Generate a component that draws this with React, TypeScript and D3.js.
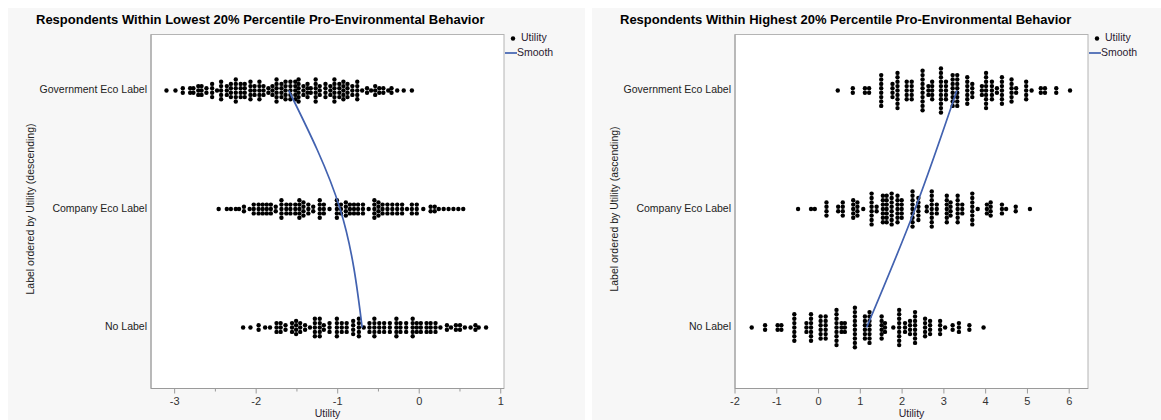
import React from 'react';
import * as d3 from 'd3';

const categories = ['Government Eco Label', 'Company Eco Label', 'No Label'];

// Left panel: lowest 20% (column positions in Utility, and dot count per column)
const lowGovVals = [-3.10, -2.99, -2.90, -2.81, -2.77, -2.71, -2.67, -2.61, -2.54, -2.48, -2.43, -2.36, -2.31, -2.25, -2.19, -2.14, -2.07, -2.02, -1.96, -1.91, -1.85, -1.80, -1.75, -1.69, -1.64, -1.58, -1.52, -1.48, -1.42, -1.37, -1.33, -1.27, -1.22, -1.15, -1.09, -1.04, -0.98, -0.93, -0.88, -0.82, -0.76, -0.70, -0.64, -0.59, -0.54, -0.49, -0.44, -0.38, -0.34, -0.27, -0.19, -0.09];
const lowGovCounts = [1, 1, 2, 2, 2, 3, 3, 2, 4, 1, 5, 3, 4, 6, 4, 4, 5, 3, 5, 3, 2, 3, 6, 4, 5, 5, 5, 6, 3, 4, 2, 6, 3, 4, 3, 6, 4, 5, 4, 3, 5, 1, 2, 1, 3, 2, 2, 1, 2, 1, 1, 1];

const lowCoVals = [-2.46, -2.36, -2.31, -2.25, -2.21, -2.15, -2.08, -2.03, -1.97, -1.92, -1.87, -1.82, -1.76, -1.69, -1.63, -1.58, -1.52, -1.47, -1.42, -1.36, -1.30, -1.22, -1.17, -1.10, -1.01, -0.96, -0.90, -0.85, -0.80, -0.75, -0.69, -0.62, -0.55, -0.50, -0.45, -0.39, -0.33, -0.27, -0.21, -0.15, -0.09, -0.03, 0.05, 0.14, 0.19, 0.24, 0.30, 0.36, 0.42, 0.48, 0.54];
const lowCoCounts = [1, 1, 1, 1, 1, 2, 1, 3, 3, 3, 3, 3, 2, 5, 3, 3, 3, 5, 4, 3, 2, 5, 3, 1, 5, 3, 4, 3, 3, 3, 3, 1, 5, 4, 3, 3, 3, 3, 3, 1, 3, 3, 1, 2, 2, 1, 1, 1, 1, 1, 1];

const lowNoVals = [-2.16, -2.07, -1.97, -1.89, -1.83, -1.75, -1.70, -1.64, -1.56, -1.51, -1.46, -1.40, -1.34, -1.28, -1.22, -1.17, -1.10, -1.01, -0.95, -0.89, -0.81, -0.74, -0.68, -0.61, -0.55, -0.49, -0.43, -0.36, -0.28, -0.23, -0.16, -0.08, -0.03, 0.02, 0.09, 0.14, 0.20, 0.26, 0.34, 0.39, 0.45, 0.50, 0.56, 0.63, 0.69, 0.73, 0.82];
const lowNoCounts = [1, 1, 2, 1, 1, 3, 3, 2, 3, 4, 3, 2, 1, 5, 5, 2, 3, 5, 3, 3, 4, 5, 1, 3, 5, 3, 3, 3, 5, 3, 3, 5, 3, 3, 3, 3, 3, 1, 2, 1, 2, 2, 1, 1, 2, 1, 1];

const lowSmooth = [-1.60, -0.97, -0.70];

// Right panel: highest 20%
const highGovVals = [0.46, 0.82, 1.11, 1.21, 1.50, 1.77, 1.89, 2.11, 2.23, 2.49, 2.63, 2.72, 2.93, 3.05, 3.21, 3.32, 3.56, 3.68, 3.91, 4.01, 4.15, 4.27, 4.39, 4.62, 4.73, 4.97, 5.10, 5.32, 5.42, 5.69, 6.02];
const highGovCounts = [1, 2, 2, 2, 8, 4, 9, 5, 5, 10, 3, 5, 11, 5, 8, 8, 7, 4, 3, 9, 5, 2, 7, 6, 2, 5, 1, 2, 2, 2, 1];

const highCoVals = [-0.49, -0.18, -0.09, 0.19, 0.47, 0.58, 0.83, 0.93, 1.07, 1.27, 1.39, 1.54, 1.63, 1.75, 1.89, 1.99, 2.25, 2.39, 2.59, 2.71, 2.83, 3.07, 3.16, 3.33, 3.44, 3.68, 3.81, 4.03, 4.12, 4.39, 4.49, 4.72, 5.06];
const highCoCounts = [1, 1, 1, 4, 2, 4, 5, 4, 1, 8, 2, 7, 7, 8, 7, 5, 9, 6, 2, 9, 3, 7, 4, 7, 3, 8, 1, 3, 4, 3, 1, 2, 1];

const highNoVals = [-1.60, -1.28, -0.98, -0.89, -0.58, -0.29, -0.18, 0.05, 0.17, 0.43, 0.55, 0.63, 0.87, 1.11, 1.22, 1.51, 1.59, 1.79, 1.93, 2.07, 2.19, 2.31, 2.55, 2.67, 2.91, 3.03, 3.21, 3.36, 3.61, 3.95];
const highNoCounts = [1, 2, 2, 2, 7, 3, 7, 6, 6, 9, 3, 3, 10, 6, 8, 6, 3, 1, 9, 3, 4, 8, 5, 4, 4, 1, 2, 3, 2, 1];

const highSmooth = [3.31, 2.31, 1.15];

const lowTicks = [-3, -2, -1, 0, 1];
const lowMinorTicks = [-2.5, -1.5, -0.5, 0.5];
const highTicks = [-2, -1, 0, 1, 2, 3, 4, 5, 6];
const highMinorTicks: number[] = [];

const FONT = "'Segoe UI', 'Liberation Sans', Arial, sans-serif";
const DOT_R = 2.2;
const DOT_STEP = 4.4;

type Swarm = { vals: number[]; counts: number[] };

interface PanelProps {
  offsetX: number;
  panelW: number;
  title: string;
  yLabel: string;
  domain: [number, number];
  ticks: number[];
  minorTicks: number[];
  swarms: Swarm[];
  smooth: number[];
}

function Panel({ offsetX, panelW, title, yLabel, domain, ticks, minorTicks, swarms, smooth }: PanelProps) {
  const left = offsetX + 143;
  const right = offsetX + 496;
  const top = 34.5;
  const bottom = 388.5;
  const x = d3.scaleLinear().domain(domain).range([left, right]);
  const y = d3.scalePoint<string>().domain(categories).range([90.5, 327.5]);

  const dots: { cx: number; cy: number }[] = [];
  swarms.forEach((s, ci) => {
    const cy0 = y(categories[ci]) as number;
    s.vals.forEach((v, j) => {
      const n = s.counts[j];
      for (let i = 0; i < n; i++) {
        dots.push({ cx: x(v), cy: cy0 + (i - (n - 1) / 2) * DOT_STEP });
      }
    });
  });

  const linePts: [number, number][] = smooth.map((v, i) => [x(v), y(categories[i]) as number]);
  const lineGen = d3.line<[number, number]>().x(d => d[0]).y(d => d[1]).curve(d3.curveNatural);

  return (
    <g>
      <rect x={offsetX} y={8} width={panelW} height={412} fill="#f7f7f7" />
      <text x={offsetX + 28} y={24} fontFamily={FONT} fontWeight="bold" fontSize={13} fill="#000">{title}</text>
      <rect x={left} y={top} width={right - left} height={bottom - top} fill="#fff" stroke="#b4b4b4" strokeWidth={1} />
      <line x1={left} x2={left} y1={top} y2={bottom} stroke="#9a9a9a" />
      <line x1={left} x2={right} y1={bottom} y2={bottom} stroke="#9a9a9a" />
      {ticks.map(t => (
        <g key={'t' + t}>
          <line x1={x(t)} x2={x(t)} y1={bottom} y2={bottom + 5} stroke="#9a9a9a" />
          <text x={x(t)} y={402.5} textAnchor="middle" dominantBaseline="middle" fontFamily={FONT} fontSize={11} fill="#333">{t}</text>
        </g>
      ))}
      {minorTicks.map(t => (
        <line key={'m' + t} x1={x(t)} x2={x(t)} y1={bottom} y2={bottom + 3} stroke="#9a9a9a" />
      ))}
      <text x={(left + right) / 2} y={414.5} textAnchor="middle" dominantBaseline="middle" fontFamily={FONT} fontSize={10.5} fill="#2a2030">Utility</text>
      {categories.map(c => (
        <text key={c} x={left - 4} y={y(c) as number} textAnchor="end" dominantBaseline="middle" fontFamily={FONT} fontSize={10.5} fill="#222">{c}</text>
      ))}
      <text transform={`translate(${offsetX + 23},${209}) rotate(-90)`} textAnchor="middle" dominantBaseline="middle" fontFamily={FONT} fontSize={10.5} fill="#222">{yLabel}</text>
      {dots.map((d, i) => (
        <circle key={i} cx={d.cx} cy={d.cy} r={DOT_R} fill="#000" />
      ))}
      <path d={lineGen(linePts) || ''} fill="none" stroke="#4262b0" strokeWidth={1.7} />
      {/* legend */}
      <circle cx={right + 9} cy={38.5} r={2.2} fill="#000" />
      <text x={right + 17} y={38.5} dominantBaseline="middle" fontFamily={FONT} fontSize={10.5} fill="#2a2030">Utility</text>
      <line x1={right + 1} x2={right + 13} y1={53} y2={53} stroke="#4262b0" strokeWidth={1.7} />
      <text x={right + 13} y={53} dominantBaseline="middle" fontFamily={FONT} fontSize={10.5} fill="#2a2030">Smooth</text>
    </g>
  );
}

export default function App() {
  return (
    <svg width={1161} height={420} style={{ position: 'absolute', left: 0, top: 0 }}>
      <rect x={0} y={0} width={1161} height={420} fill="#fff" />
      <Panel
        offsetX={8}
        panelW={577}
        title="Respondents Within Lowest 20% Percentile Pro-Environmental Behavior"
        yLabel="Label ordered by Utility (descending)"
        domain={[-3.29, 1.04]}
        ticks={lowTicks}
        minorTicks={lowMinorTicks}
        swarms={[
          { vals: lowGovVals, counts: lowGovCounts },
          { vals: lowCoVals, counts: lowCoCounts },
          { vals: lowNoVals, counts: lowNoCounts },
        ]}
        smooth={lowSmooth}
      />
      <Panel
        offsetX={592}
        panelW={569}
        title="Respondents Within Highest 20% Percentile Pro-Environmental Behavior"
        yLabel="Label ordered by Utility (ascending)"
        domain={[-2, 6.45]}
        ticks={highTicks}
        minorTicks={highMinorTicks}
        swarms={[
          { vals: highGovVals, counts: highGovCounts },
          { vals: highCoVals, counts: highCoCounts },
          { vals: highNoVals, counts: highNoCounts },
        ]}
        smooth={highSmooth}
      />
    </svg>
  );
}
